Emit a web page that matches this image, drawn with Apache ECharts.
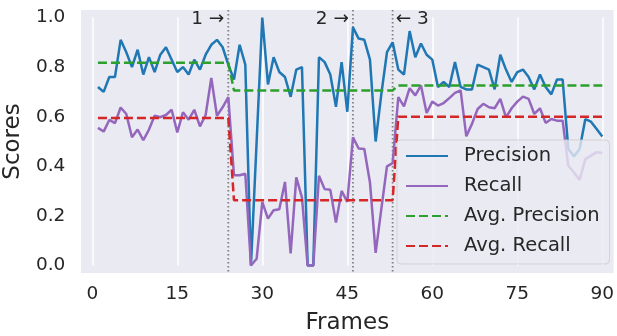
<!DOCTYPE html>
<html><head><meta charset="utf-8">
<script src="https://cdn.jsdelivr.net/npm/echarts@6/dist/echarts.min.js"></script>
<style>html,body{margin:0;padding:0;background:#fff}#c{width:617px;height:336px}</style>
</head><body><div id="c"></div>
<script>
// ---- data ----
const precision = [
  0.72, 0.70, 0.76, 0.76, 0.91, 0.86, 0.80, 0.87, 0.77, 0.84,
  0.78, 0.85, 0.88, 0.83, 0.78, 0.80, 0.77, 0.83, 0.79, 0.85,
  0.89, 0.91, 0.88, 0.81, 0.75, 0.89, 0.81, 0.00, 0.50, 1.00,
  0.73, 0.84, 0.78, 0.76, 0.68, 0.79, 0.80, 0.00, 0.00, 0.84,
  0.82, 0.77, 0.64, 0.82, 0.62, 0.96, 0.915, 0.91, 0.83, 0.50,
  0.69, 0.86, 0.90, 0.79, 0.77, 0.945, 0.84, 0.895, 0.85, 0.83,
  0.72, 0.74, 0.72, 0.82, 0.72, 0.71, 0.71, 0.81, 0.80, 0.79,
  0.71, 0.85, 0.79, 0.74, 0.78, 0.79, 0.76, 0.71, 0.77, 0.72,
  0.69, 0.75, 0.75, 0.47, 0.44, 0.47, 0.59, 0.58, 0.55, 0.52
];
const recall = [
  0.555, 0.54, 0.587, 0.574, 0.637, 0.611, 0.517, 0.548, 0.505, 0.548,
  0.604, 0.598, 0.607, 0.628, 0.537, 0.618, 0.588, 0.628, 0.561, 0.607,
  0.756, 0.604, 0.638, 0.679, 0.364, 0.364, 0.370, 0.00, 0.027, 0.256,
  0.189, 0.223, 0.227, 0.337, 0.049, 0.355, 0.274, 0.00, 0.00, 0.362,
  0.308, 0.305, 0.173, 0.301, 0.256, 0.517, 0.472, 0.470, 0.335, 0.051,
  0.227, 0.40, 0.413, 0.679, 0.642, 0.715, 0.686, 0.726, 0.615, 0.661,
  0.645, 0.655, 0.675, 0.696, 0.706, 0.521, 0.571, 0.631, 0.652, 0.638,
  0.634, 0.672, 0.597, 0.634, 0.661, 0.681, 0.672, 0.611, 0.634, 0.575,
  0.591, 0.584, 0.584, 0.402, 0.375, 0.345, 0.429, 0.443, 0.457, 0.454
];
const segmentEnds = [24, 53, 90];
const avgPrecisionLevels = [0.818, 0.706, 0.726];
const avgRecallLevels = [0.595, 0.263, 0.600];
const eventFrames = [24, 46, 53];
const eventLabels = ['1 \u2192', '2 \u2192', '\u2190 3'];
const eventSides = ['left', 'left', 'right'];
const annotationY = 1.0;
const xTickLabels = [0, 15, 30, 45, 60, 75, 90];
const yTickLabels = ['0.0', '0.2', '0.4', '0.6', '0.8', '1.0'];
const xView = [-2, 92];
const yView = [-0.03, 1.03];

// ---- build ----
const frames = precision.map((_, i) => i + 1);
function levelsToSeries(levels) {
  return frames.map(f => {
    let s = 0;
    while (f > segmentEnds[s]) s++;
    return levels[s];
  });
}
const avgPrecision = levelsToSeries(avgPrecisionLevels);
const avgRecall = levelsToSeries(avgRecallLevels);
const pairs = arr => frames.map((f, i) => [f, arr[i]]);

const FONT = 'DejaVu Sans';
const TXT = '#262626';
const chart = echarts.init(document.getElementById('c'), null, {renderer: 'canvas'});

function lineSeries(name, arr, color, dashed) {
  return {
    name, type: 'line', data: pairs(arr), symbol: 'none', clip: false,
    lineStyle: {color, width: 2.5, type: dashed ? [9, 4] : 'solid'},
    itemStyle: {color}, z: 3
  };
}

chart.setOption({
  animation: false,
  backgroundColor: '#ffffff',
  textStyle: {fontFamily: FONT},
  grid: {left: 92.3, right: 14.7, top: 17.5, bottom: 70.5, containLabel: false,
    outerBoundsMode: 'none'},
  xAxis: {
    type: 'value', min: xTickLabels[0], max: xTickLabels[xTickLabels.length - 1],
    interval: xTickLabels[1] - xTickLabels[0],
    axisLine: {show: false}, axisTick: {show: false},
    axisLabel: {fontSize: 18.5, color: TXT, margin: 19, fontFamily: FONT},
    splitLine: {show: true, lineStyle: {color: '#ffffff', width: 1.5}},
    name: 'Frames', nameLocation: 'middle', nameGap: 46,
    nameTextStyle: {fontSize: 23, color: TXT, fontFamily: FONT}
  },
  yAxis: {
    type: 'value', min: 0, max: 1, interval: 0.2,
    axisLine: {show: false}, axisTick: {show: false},
    axisLabel: {fontSize: 18.5, color: TXT, margin: 27, fontFamily: FONT,
      formatter: v => yTickLabels[Math.round(v / 0.2)]},
    splitLine: {show: false},
    name: 'Scores', nameLocation: 'middle', nameGap: 54,
    nameTextStyle: {fontSize: 23, color: TXT, fontFamily: FONT}
  },
  legend: {
    orient: 'vertical', left: 397, top: 140,
    padding: [6, 10, 8, 8], itemGap: 10, itemWidth: 42, itemHeight: 14,
    backgroundColor: 'rgba(234,234,242,0.8)', borderColor: 'rgba(204,204,204,0.8)',
    borderWidth: 1, borderRadius: 4,
    itemStyle: {opacity: 0},
    textStyle: {fontSize: 19.5, color: TXT, fontFamily: FONT, lineHeight: 20, padding: [0, 0, 0, 11]},
    data: ['Precision', 'Recall', 'Avg. Precision', 'Avg. Recall'],
    z: 10
  },
  series: [
    lineSeries('Precision', precision, '#1f77b4', false),
    lineSeries('Recall', recall, '#9467bd', false),
    lineSeries('Avg. Precision', avgPrecision, '#2ca02c', true),
    lineSeries('Avg. Recall', avgRecall, '#d62728', true)
  ]
});

// background, event lines and annotations placed through the axes' scales
const tl = chart.convertToPixel({gridIndex: 0}, [xView[0], yView[1]]);
const br = chart.convertToPixel({gridIndex: 0}, [xView[1], yView[0]]);
const graphics = [{
  type: 'rect', silent: true, z: -10, zlevel: 0,
  shape: {x: tl[0], y: tl[1], width: br[0] - tl[0], height: br[1] - tl[1]},
  style: {fill: '#eaeaf2'}
}];
eventFrames.forEach((f, i) => {
  const p = chart.convertToPixel({gridIndex: 0}, [f, annotationY]);
  graphics.push({
    type: 'line', silent: true, z: 1,
    shape: {x1: p[0], y1: tl[1], x2: p[0], y2: br[1]},
    style: {stroke: '#808080', lineWidth: 1.8, lineDash: [1.5, 2.5]}
  });
  const left = eventSides[i] === 'left';
  graphics.push({
    type: 'text', silent: true, z: 5,
    x: left ? p[0] - 4 : p[0] + 3, y: p[1] + 1.5,
    style: {text: eventLabels[i], fill: TXT, font: '18.5px "DejaVu Sans"',
      textAlign: left ? 'right' : 'left', textVerticalAlign: 'middle'}
  });
});
chart.setOption({graphic: graphics});
</script></body></html>
